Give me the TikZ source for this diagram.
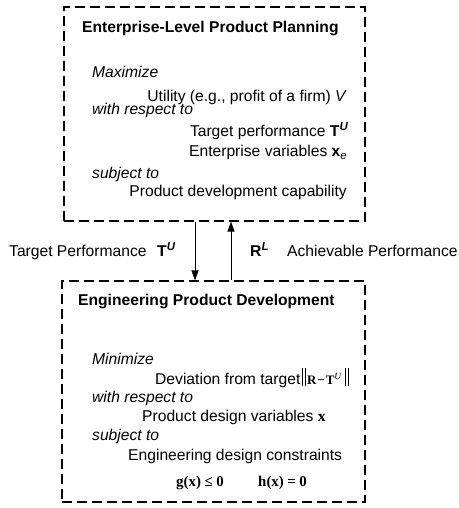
\documentclass[tikz,border=0pt]{standalone}
\usepackage{fontspec}
\setmainfont{Liberation Sans}
\newfontfamily\serifb{Liberation Serif}
\usetikzlibrary{arrows.meta}
\newcommand{\mainsz}{\fontsize{15.7}{18}\selectfont}
\newcommand{\supsz}{\fontsize{11.5}{12}\selectfont}
\newcommand{\normbar}{\rule[-2bp]{0.9bp}{18bp}\hspace{1.4bp}\rule[-2bp]{0.9bp}{18bp}}
\tikzset{
  box/.style={draw, rectangle, dash pattern=on 10bp off 5bp, line width=1.1bp, inner sep=0pt},
  txt/.style={inner sep=0pt, font=\mainsz},
  ser/.style={inner sep=0pt, font=\fontsize{15}{17}\selectfont\serifb\bfseries},
  arr/.style={-{Triangle[length=10bp,width=7bp]}, line width=1bp}
}
\begin{document}
\begin{tikzpicture}[x=1bp,y=-1bp]
\useasboundingbox (0,0) rectangle (459,508);
% boxes
\node[box, minimum width=301bp, minimum height=214bp] (top) at (214.5,114) {};
\node[box, minimum width=303bp, minimum height=221bp] (bot) at (213.5,391.5) {};
% top box text
\node[txt, anchor=base west] (t1) at (82,33) {\textbf{Enterprise-Level Product Planning}};
\node[txt, anchor=base west] (t2) at (92,78) {\textit{Maximize}};
\node[txt, anchor=base east] (t3) at (347,102) {Utility (e.g., profit of a firm) \textit{V}};
\node[txt, anchor=base west] (t4) at (92,115) {\textit{with respect to}};
\node[txt, anchor=base east] (t5) at (348,137) {Target performance \textbf{T}\raisebox{6bp}{\supsz\bfseries\itshape U}};
\node[txt, anchor=base east] (t6) at (347,157) {Enterprise variables \textbf{x}\raisebox{-3bp}{\supsz\itshape e}};
\node[txt, anchor=base west] (t7) at (92,179) {\textit{subject to}};
\node[txt, anchor=base east] (t8) at (347,197) {Product development capability};
% bottom box text
\node[txt, anchor=base west] (b1) at (78,305) {\textbf{Engineering Product Development}};
\node[txt, anchor=base west] (b2) at (92,364) {\textit{Minimize}};
\node[txt, anchor=base west] (b3) at (155,384) {Deviation from target\hspace{2bp}\normbar\hspace{1.5bp}{\fontsize{13}{15}\selectfont\serifb\bfseries R\hspace{1bp}−\hspace{1bp}T\raisebox{4.5bp}{\fontsize{9.5}{10}\selectfont\mdseries\itshape U}}\hspace{4bp}\normbar};
\node[txt, anchor=base west] (b4) at (92,402) {\textit{with respect to}};
\node[txt, anchor=base west] (b5) at (142,421) {Product design variables {\serifb\bfseries x}};
\node[txt, anchor=base west] (b6) at (92,440) {\textit{subject to}};
\node[txt, anchor=base west] (b7) at (128,460) {Engineering design constraints};
\node[ser, anchor=base west] (b8) at (176,486) {g(x)\hspace{3.5bp}≤\hspace{3.5bp}0};
\node[ser, anchor=base west] (b9) at (258,486) {h(x)\hspace{3.5bp}=\hspace{3.5bp}0};
% arrows
\coordinate (da) at (195,0);
\coordinate (ua) at (231,0);
\draw[arr] (top.south -| da) -- (bot.north -| da);
\draw[arr] (bot.north -| ua) -- (top.south -| ua);
% arrow labels
\node[txt, anchor=base west] (l1) at (9,256) {Target Performance};
\node[txt, anchor=base west] (l2) at (157,256) {\textbf{T}\raisebox{6bp}{\supsz\bfseries\itshape U}};
\node[txt, anchor=base west] (l3) at (250,256) {\textbf{R}\raisebox{6bp}{\supsz\bfseries\itshape L}};
\node[txt, anchor=base west] (l4) at (287,256) {Achievable Performance};
\end{tikzpicture}
\end{document}
